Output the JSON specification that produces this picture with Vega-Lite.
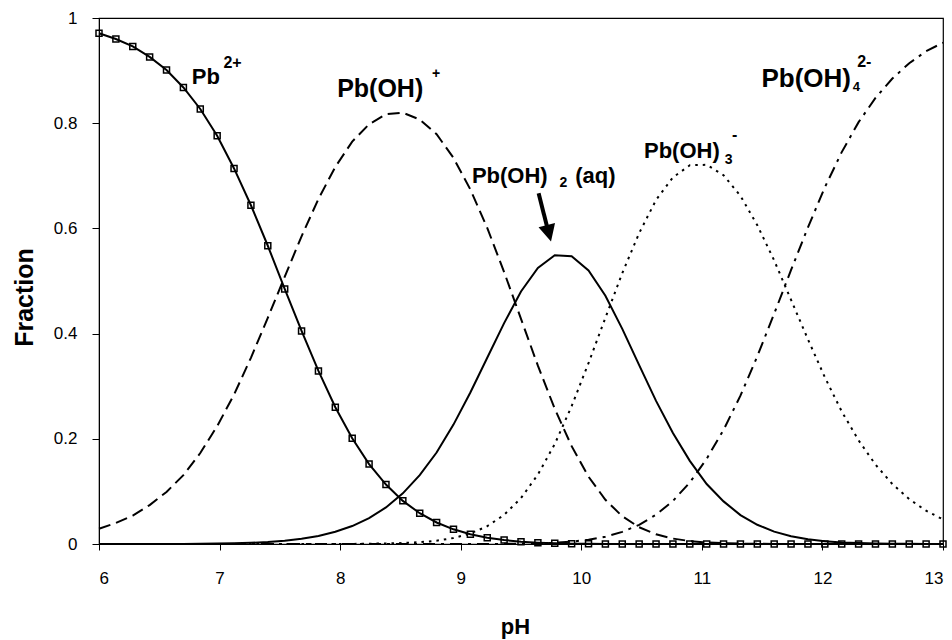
{
  "$schema": "https://vega.github.io/schema/vega-lite/v6.json",
  "width": 844,
  "height": 526,
  "autosize": {"type": "none"},
  "padding": {"left": 99, "top": 18, "right": 9, "bottom": 96},
  "background": "white",
  "config": {
    "font": "Liberation Sans",
    "view": {"stroke": "black", "strokeWidth": 1.2},
    "axis": {"grid": false, "domainColor": "black", "tickColor": "black", "labelColor": "black", "titleColor": "black", "labelFont": "Liberation Sans", "titleFont": "Liberation Sans", "titleFontWeight": "bold"}
  },
  "datasets": {
    "curves": [
      {"pH": 6.00, "Pb": 0.971, "PbOH": 0.029, "PbOH2": 0, "PbOH3": 0, "PbOH4": 0},
      {"pH": 6.14, "Pb": 0.960, "PbOH": 0.040, "PbOH2": 0, "PbOH3": 0, "PbOH4": 0},
      {"pH": 6.28, "Pb": 0.946, "PbOH": 0.054, "PbOH2": 0, "PbOH3": 0, "PbOH4": 0},
      {"pH": 6.42, "Pb": 0.926, "PbOH": 0.074, "PbOH2": 0.0001, "PbOH3": 0, "PbOH4": 0},
      {"pH": 6.56, "Pb": 0.901, "PbOH": 0.099, "PbOH2": 0.0001, "PbOH3": 0, "PbOH4": 0},
      {"pH": 6.70, "Pb": 0.868, "PbOH": 0.131, "PbOH2": 0.0002, "PbOH3": 0, "PbOH4": 0},
      {"pH": 6.84, "Pb": 0.827, "PbOH": 0.173, "PbOH2": 0.0004, "PbOH3": 0, "PbOH4": 0},
      {"pH": 6.98, "Pb": 0.776, "PbOH": 0.224, "PbOH2": 0.0008, "PbOH3": 0, "PbOH4": 0},
      {"pH": 7.12, "Pb": 0.714, "PbOH": 0.284, "PbOH2": 0.0013, "PbOH3": 0, "PbOH4": 0},
      {"pH": 7.26, "Pb": 0.644, "PbOH": 0.354, "PbOH2": 0.0023, "PbOH3": 0, "PbOH4": 0},
      {"pH": 7.40, "Pb": 0.567, "PbOH": 0.430, "PbOH2": 0.0038, "PbOH3": 0, "PbOH4": 0},
      {"pH": 7.54, "Pb": 0.485, "PbOH": 0.508, "PbOH2": 0.0063, "PbOH3": 0, "PbOH4": 0},
      {"pH": 7.68, "Pb": 0.405, "PbOH": 0.585, "PbOH2": 0.0099, "PbOH3": 0, "PbOH4": 0},
      {"pH": 7.82, "Pb": 0.329, "PbOH": 0.656, "PbOH2": 0.0154, "PbOH3": 0.0001, "PbOH4": 0},
      {"pH": 7.96, "Pb": 0.260, "PbOH": 0.717, "PbOH2": 0.0232, "PbOH3": 0.0001, "PbOH4": 0},
      {"pH": 8.10, "Pb": 0.201, "PbOH": 0.765, "PbOH2": 0.0341, "PbOH3": 0.0002, "PbOH4": 0},
      {"pH": 8.24, "Pb": 0.152, "PbOH": 0.798, "PbOH2": 0.0492, "PbOH3": 0.0005, "PbOH4": 0},
      {"pH": 8.38, "Pb": 0.113, "PbOH": 0.817, "PbOH2": 0.0695, "PbOH3": 0.0010, "PbOH4": 0},
      {"pH": 8.52, "Pb": 0.082, "PbOH": 0.820, "PbOH2": 0.0963, "PbOH3": 0.0018, "PbOH4": 0},
      {"pH": 8.66, "Pb": 0.0585, "PbOH": 0.807, "PbOH2": 0.131, "PbOH3": 0.0034, "PbOH4": 0},
      {"pH": 8.80, "Pb": 0.0409, "PbOH": 0.779, "PbOH2": 0.174, "PbOH3": 0.0063, "PbOH4": 0},
      {"pH": 8.94, "Pb": 0.0279, "PbOH": 0.734, "PbOH2": 0.227, "PbOH3": 0.0114, "PbOH4": 0},
      {"pH": 9.08, "Pb": 0.0186, "PbOH": 0.674, "PbOH2": 0.288, "PbOH3": 0.0199, "PbOH4": 0},
      {"pH": 9.22, "Pb": 0.0120, "PbOH": 0.601, "PbOH2": 0.354, "PbOH3": 0.0338, "PbOH4": 0.0001},
      {"pH": 9.36, "Pb": 0.0075, "PbOH": 0.517, "PbOH2": 0.420, "PbOH3": 0.0554, "PbOH4": 0.0003},
      {"pH": 9.50, "Pb": 0.0045, "PbOH": 0.428, "PbOH2": 0.480, "PbOH3": 0.0873, "PbOH4": 0.0006},
      {"pH": 9.64, "Pb": 0.0026, "PbOH": 0.339, "PbOH2": 0.525, "PbOH3": 0.132, "PbOH4": 0.0012},
      {"pH": 9.78, "Pb": 0.0014, "PbOH": 0.257, "PbOH2": 0.549, "PbOH3": 0.190, "PbOH4": 0.0023},
      {"pH": 9.92, "Pb": 0.0007, "PbOH": 0.186, "PbOH2": 0.547, "PbOH3": 0.262, "PbOH4": 0.0044},
      {"pH": 10.06, "Pb": 0.0004, "PbOH": 0.128, "PbOH2": 0.520, "PbOH3": 0.344, "PbOH4": 0.0081},
      {"pH": 10.20, "Pb": 0.0002, "PbOH": 0.084, "PbOH2": 0.472, "PbOH3": 0.430, "PbOH4": 0.0139},
      {"pH": 10.34, "Pb": 0.0001, "PbOH": 0.0527, "PbOH2": 0.409, "PbOH3": 0.515, "PbOH4": 0.0230},
      {"pH": 10.48, "Pb": 0, "PbOH": 0.0318, "PbOH2": 0.340, "PbOH3": 0.591, "PbOH4": 0.0365},
      {"pH": 10.62, "Pb": 0, "PbOH": 0.0184, "PbOH2": 0.272, "PbOH3": 0.654, "PbOH4": 0.0556},
      {"pH": 10.76, "Pb": 0, "PbOH": 0.0103, "PbOH2": 0.211, "PbOH3": 0.697, "PbOH4": 0.0819},
      {"pH": 10.90, "Pb": 0, "PbOH": 0.0056, "PbOH2": 0.158, "PbOH3": 0.720, "PbOH4": 0.117},
      {"pH": 11.04, "Pb": 0, "PbOH": 0.0029, "PbOH2": 0.114, "PbOH3": 0.721, "PbOH4": 0.162},
      {"pH": 11.18, "Pb": 0, "PbOH": 0.0015, "PbOH2": 0.081, "PbOH3": 0.701, "PbOH4": 0.217},
      {"pH": 11.32, "Pb": 0, "PbOH": 0.0007, "PbOH2": 0.055, "PbOH3": 0.662, "PbOH4": 0.282},
      {"pH": 11.46, "Pb": 0, "PbOH": 0.0004, "PbOH2": 0.0365, "PbOH3": 0.606, "PbOH4": 0.357},
      {"pH": 11.60, "Pb": 0, "PbOH": 0.0002, "PbOH2": 0.0235, "PbOH3": 0.539, "PbOH4": 0.438},
      {"pH": 11.74, "Pb": 0, "PbOH": 0.0001, "PbOH2": 0.0147, "PbOH3": 0.464, "PbOH4": 0.521},
      {"pH": 11.88, "Pb": 0, "PbOH": 0, "PbOH2": 0.0089, "PbOH3": 0.389, "PbOH4": 0.602},
      {"pH": 12.02, "Pb": 0, "PbOH": 0, "PbOH2": 0.0053, "PbOH3": 0.317, "PbOH4": 0.678},
      {"pH": 12.16, "Pb": 0, "PbOH": 0, "PbOH2": 0.0030, "PbOH3": 0.252, "PbOH4": 0.745},
      {"pH": 12.30, "Pb": 0, "PbOH": 0, "PbOH2": 0.0017, "PbOH3": 0.197, "PbOH4": 0.802},
      {"pH": 12.44, "Pb": 0, "PbOH": 0, "PbOH2": 0.0010, "PbOH3": 0.151, "PbOH4": 0.848},
      {"pH": 12.58, "Pb": 0, "PbOH": 0, "PbOH2": 0.0005, "PbOH3": 0.114, "PbOH4": 0.885},
      {"pH": 12.72, "Pb": 0, "PbOH": 0, "PbOH2": 0.0003, "PbOH3": 0.0853, "PbOH4": 0.914},
      {"pH": 12.86, "Pb": 0, "PbOH": 0, "PbOH2": 0.0002, "PbOH3": 0.0633, "PbOH4": 0.937},
      {"pH": 13.00, "Pb": 0, "PbOH": 0, "PbOH2": 0.0001, "PbOH3": 0.0467, "PbOH4": 0.953}
    ],
    "labels": [
      {"id": "pb_main", "txt": "Pb", "x": 6.769, "y": 0.874},
      {"id": "pb_sup", "txt": "2+", "x": 7.032, "y": 0.904},
      {"id": "pboh_main", "txt": "Pb(OH)", "x": 7.975, "y": 0.850},
      {"id": "pboh_sup", "txt": "+", "x": 8.761, "y": 0.885},
      {"id": "pboh2_main", "txt": "Pb(OH)", "x": 9.093, "y": 0.686},
      {"id": "pboh2_sub", "txt": "2", "x": 9.82, "y": 0.679},
      {"id": "pboh2_aq", "txt": "(aq)", "x": 9.95, "y": 0.686},
      {"id": "pboh3_main", "txt": "Pb(OH)", "x": 10.52, "y": 0.733},
      {"id": "pboh3_sub", "txt": "3", "x": 11.19, "y": 0.722},
      {"id": "pboh3_sup", "txt": "-", "x": 11.25, "y": 0.768},
      {"id": "pboh4_main", "txt": "Pb(OH)", "x": 11.494, "y": 0.868},
      {"id": "pboh4_sub", "txt": "4", "x": 12.251, "y": 0.862},
      {"id": "pboh4_sup", "txt": "2-", "x": 12.288, "y": 0.907}
    ],
    "arrow": [
      {"x0": 9.646, "y0": 0.667, "x1": 9.722, "y1": 0.598, "tx": 9.749, "ty": 0.575}
    ]
  },
  "layer": [
    {
      "data": {"name": "curves"},
      "mark": {"type": "line", "color": "black", "strokeWidth": 2},
      "encoding": {
        "x": {"field": "pH", "type": "quantitative", "scale": {"domain": [6, 13], "nice": false},
              "axis": {"title": "pH", "values": [6, 7, 8, 9, 10, 11, 12, 13], "format": "~g", "tickSize": 6, "labelFontSize": 17, "labelPadding": 20, "titleFontSize": 22, "titleX": 416, "titleY": 89, "titleBaseline": "alphabetic", "titleAlign": "center"}},
        "y": {"field": "Pb", "type": "quantitative", "scale": {"domain": [0, 1], "nice": false},
              "axis": {"title": "Fraction", "values": [0, 0.2, 0.4, 0.6, 0.8, 1], "format": "~g", "tickSize": 7, "labelFontSize": 17, "labelPadding": 15, "titleFontSize": 25, "titleAngle": 270, "titleX": -67, "titleY": 279, "titleBaseline": "alphabetic", "titleAlign": "center"}}
      }
    },
    {
      "data": {"name": "curves"},
      "mark": {"type": "point", "shape": "square", "filled": false, "color": "black", "size": 36, "strokeWidth": 1.5, "opacity": 1},
      "encoding": {
        "x": {"field": "pH", "type": "quantitative"},
        "y": {"field": "Pb", "type": "quantitative"}
      }
    },
    {
      "data": {"name": "curves"},
      "mark": {"type": "line", "color": "black", "strokeWidth": 2, "strokeDash": [12, 6]},
      "encoding": {
        "x": {"field": "pH", "type": "quantitative"},
        "y": {"field": "PbOH", "type": "quantitative"}
      }
    },
    {
      "data": {"name": "curves"},
      "mark": {"type": "line", "color": "black", "strokeWidth": 2},
      "encoding": {
        "x": {"field": "pH", "type": "quantitative"},
        "y": {"field": "PbOH2", "type": "quantitative"}
      }
    },
    {
      "data": {"name": "curves"},
      "mark": {"type": "line", "color": "black", "strokeWidth": 2, "strokeDash": [2.5, 5]},
      "encoding": {
        "x": {"field": "pH", "type": "quantitative"},
        "y": {"field": "PbOH3", "type": "quantitative"}
      }
    },
    {
      "data": {"name": "curves"},
      "mark": {"type": "line", "color": "black", "strokeWidth": 2, "strokeDash": [12, 6, 3, 6]},
      "encoding": {
        "x": {"field": "pH", "type": "quantitative"},
        "y": {"field": "PbOH4", "type": "quantitative"}
      }
    },
    {
      "data": {"name": "arrow"},
      "mark": {"type": "rule", "color": "black", "strokeWidth": 4},
      "encoding": {
        "x": {"field": "x0", "type": "quantitative"},
        "y": {"field": "y0", "type": "quantitative"},
        "x2": {"field": "x1"},
        "y2": {"field": "y1"}
      }
    },
    {
      "data": {"name": "arrow"},
      "mark": {"type": "point", "shape": "M-1,-2L1,-2L0,0Z", "filled": true, "color": "black", "size": 289, "angle": 345.6, "opacity": 1},
      "encoding": {
        "x": {"field": "tx", "type": "quantitative"},
        "y": {"field": "ty", "type": "quantitative"}
      }
    },
    {
      "data": {"name": "labels"},
      "transform": [{"filter": {"field": "id", "oneOf": ["pb_main", "pboh2_main", "pboh2_aq", "pboh3_main"]}}],
      "mark": {"type": "text", "font": "Liberation Sans", "fontWeight": "bold", "fontSize": 22, "align": "left", "baseline": "alphabetic", "color": "black"},
      "encoding": {"x": {"field": "x", "type": "quantitative"}, "y": {"field": "y", "type": "quantitative"}, "text": {"field": "txt"}}
    },
    {
      "data": {"name": "labels"},
      "transform": [{"filter": {"field": "id", "equal": "pboh_main"}}],
      "mark": {"type": "text", "font": "Liberation Sans", "fontWeight": "bold", "fontSize": 25, "align": "left", "baseline": "alphabetic", "color": "black"},
      "encoding": {"x": {"field": "x", "type": "quantitative"}, "y": {"field": "y", "type": "quantitative"}, "text": {"field": "txt"}}
    },
    {
      "data": {"name": "labels"},
      "transform": [{"filter": {"field": "id", "equal": "pboh4_main"}}],
      "mark": {"type": "text", "font": "Liberation Sans", "fontWeight": "bold", "fontSize": 26, "align": "left", "baseline": "alphabetic", "color": "black"},
      "encoding": {"x": {"field": "x", "type": "quantitative"}, "y": {"field": "y", "type": "quantitative"}, "text": {"field": "txt"}}
    },
    {
      "data": {"name": "labels"},
      "transform": [{"filter": {"field": "id", "oneOf": ["pb_sup", "pboh3_sup", "pboh4_sup"]}}],
      "mark": {"type": "text", "font": "Liberation Sans", "fontWeight": "bold", "fontSize": 16, "align": "left", "baseline": "alphabetic", "color": "black"},
      "encoding": {"x": {"field": "x", "type": "quantitative"}, "y": {"field": "y", "type": "quantitative"}, "text": {"field": "txt"}}
    },
    {
      "data": {"name": "labels"},
      "transform": [{"filter": {"field": "id", "oneOf": ["pboh_sup", "pboh2_sub", "pboh3_sub"]}}],
      "mark": {"type": "text", "font": "Liberation Sans", "fontWeight": "bold", "fontSize": 14, "align": "left", "baseline": "alphabetic", "color": "black"},
      "encoding": {"x": {"field": "x", "type": "quantitative"}, "y": {"field": "y", "type": "quantitative"}, "text": {"field": "txt"}}
    },
    {
      "data": {"name": "labels"},
      "transform": [{"filter": {"field": "id", "equal": "pboh4_sub"}}],
      "mark": {"type": "text", "font": "Liberation Sans", "fontWeight": "bold", "fontSize": 13, "align": "left", "baseline": "alphabetic", "color": "black"},
      "encoding": {"x": {"field": "x", "type": "quantitative"}, "y": {"field": "y", "type": "quantitative"}, "text": {"field": "txt"}}
    }
  ]
}
